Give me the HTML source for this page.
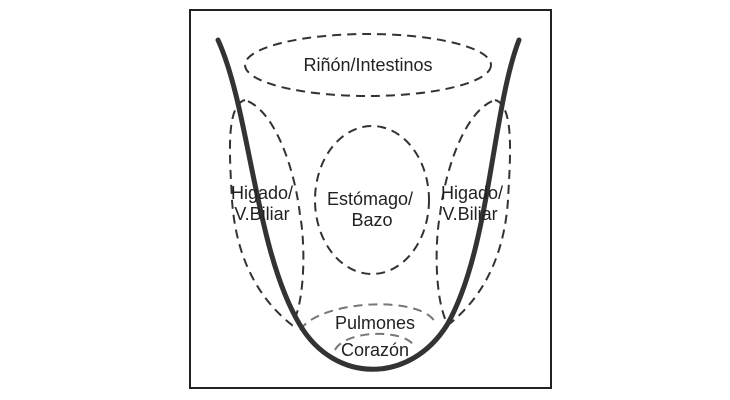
<!DOCTYPE html>
<html><head><meta charset="utf-8"><style>
html,body{margin:0;padding:0;background:#fff;}
svg{display:block;}
text{font-family:"Liberation Sans",sans-serif;font-size:18px;fill:#222;text-anchor:middle;}
</style></head><body>
<svg width="730" height="400" viewBox="0 0 730 400">
<rect x="190" y="10" width="361" height="378" fill="#fff" stroke="#222" stroke-width="2"/>
<g fill="none" stroke="#333" stroke-width="2" stroke-dasharray="9,6">
<ellipse cx="368" cy="65" rx="123" ry="31"/>
<ellipse cx="372" cy="200" rx="57" ry="74"/>
<path d="M245,100 C225,105 230,160 232,200 C236,260 260,300 292,325 C306,300 305,240 300,215 C295,170 275,110 245,100 Z"/>
<path d="M495,100 C515,105 510,160 508,200 C504,260 480,300 448,325 C434,300 435,240 440,215 C445,170 465,110 495,100 Z"/>
<path d="M300,330 C320,300 420,295 435,322" stroke="#777"/>
<path d="M335,350 C345,330 405,328 415,347" stroke="#777"/>
</g>
<path d="M218,40 C250,110 255,250 300,325 C335,384 410,384 447,325 C490,250 492,110 519,40" fill="none" stroke="#333" stroke-width="5" stroke-linecap="round"/>
<text x="368" y="71">Riñón/Intestinos</text>
<text x="262" y="199">Higado/</text>
<text x="262" y="220">V.Biliar</text>
<text x="472" y="199">Higado/</text>
<text x="470" y="220">V.Biliar</text>
<text x="370" y="205">Estómago/</text>
<text x="372" y="226">Bazo</text>
<text x="375" y="329">Pulmones</text>
<text x="375" y="356">Corazón</text>
</svg>
</body></html>
